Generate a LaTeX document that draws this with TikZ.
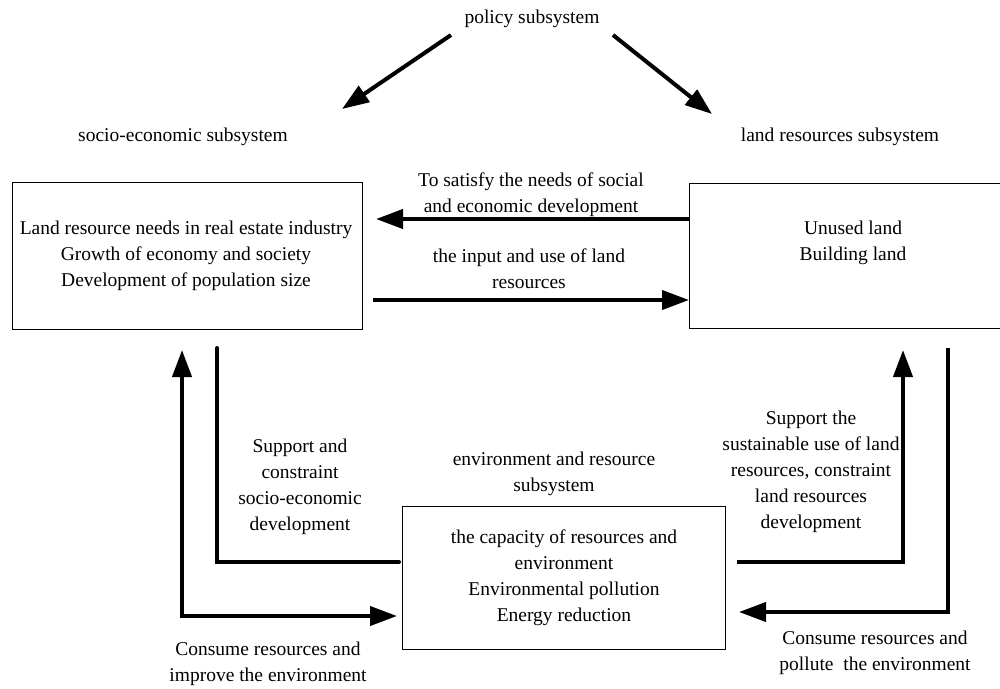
\documentclass[tikz,border=0pt]{standalone}
\usepackage{fontspec}
\setmainfont{Liberation Serif}
\usetikzlibrary{arrows.meta}
\begin{document}
\begin{tikzpicture}[x=1pt,y=-1pt,
  txt/.style={inner sep=0pt,align=center,font=\fontsize{19.5}{26}\selectfont},
  sysbox/.style={draw,line width=1.3pt,inner sep=0pt,anchor=north west},
  flow/.style={line width=4pt,-{Triangle[length=27pt,width=19pt]}},
  plainflow/.style={line width=4pt,line cap=round},
  bothflow/.style={line width=4pt,{Triangle[length=27pt,width=19pt]}-{Triangle[length=27pt,width=19pt]}}]
\useasboundingbox (0,0) rectangle (1000,688);
\fill[white] (0,0) rectangle (1000,688);
% titles
\node[txt] (policy) at (532,19) {policy subsystem};
\node[txt] (socio) at (183,137) {socio-economic subsystem};
\node[txt] (land) at (840,137) {land resources subsystem};
% boxes
\node[sysbox,minimum width=350.5pt,minimum height=147pt] (lbox) at (11.5,182) {};
\node[sysbox,minimum width=328pt,minimum height=145pt] (rbox) at (689,183) {};
\node[sysbox,minimum width=323pt,minimum height=143pt] (bbox) at (402,506) {};
\node[txt] (ltext) at (186,256) {Land resource needs in real estate industry\\Growth of economy and society\\Development of population size};
\node[txt] (rtext) at (853,243) {Unused land\\Building land};
\node[txt] (btext) at (564,578) {the capacity of resources and\\environment\\Environmental pollution\\Energy reduction};
% policy arrows
\coordinate (pl) at (451,35);
\coordinate (plt) at (342,109);
\coordinate (pr) at (613,35);
\coordinate (prt) at (712,114);
\draw[flow] (pl) -- (plt);
\draw[flow] (pr) -- (prt);
% horizontal arrows between left and right boxes
\coordinate (topt) at (376,219);
\draw[flow] (rbox.west |- topt) -- (topt);
\coordinate (bots) at (373,300);
\draw[flow] (bots) -- (rbox.west |- bots);
\node[txt] (lab1) at (531,195) {To satisfy the needs of social\\and economic development};
\node[txt] (lab2) at (529,269) {the input and use of land\\resources};
% left loop
\coordinate (l1s) at (217,348);
\coordinate (l1e) at (399,562);
\draw[plainflow] (l1s) |- (l1e);
\coordinate (l2t) at (182,350);
\coordinate (l2e) at (397,616);
\draw[bothflow] (l2t) |- (l2e);
% right loop
\coordinate (r1s) at (737,562);
\coordinate (r1t) at (903,350);
\draw[flow] (r1s) -| (r1t);
\coordinate (r2s) at (948,348);
\coordinate (r2t) at (739,612);
\draw[flow] (r2s) |- (r2t);
% labels
\node[txt] (envlab) at (554,474) {environment and resource\\subsystem};
\node[txt] (lab3) at (300,487) {Support and\\constraint\\socio-economic\\development};
\node[txt] (lab4) at (811,472) {Support the\\sustainable use of land\\resources, constraint\\land resources\\development};
\node[txt] (lab5) at (268,664) {Consume resources and\\improve the environment};
\node[txt] (lab6) at (875,653) {Consume resources and\\pollute\ \ the environment};
\end{tikzpicture}
\end{document}
